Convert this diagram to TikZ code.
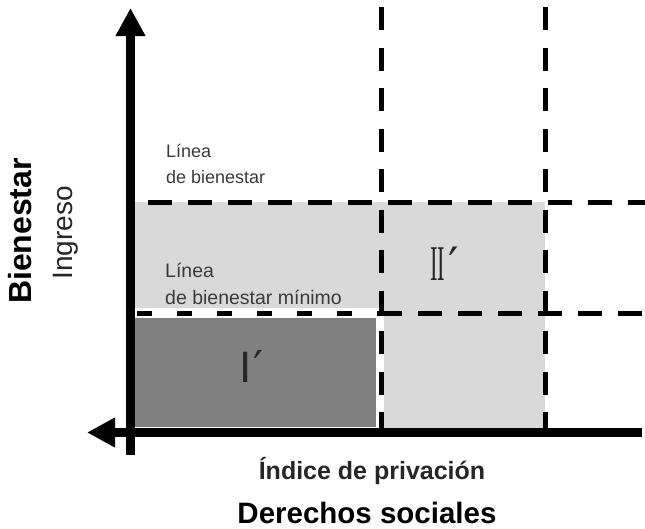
\documentclass[tikz,border=0pt]{standalone}
\usepackage{fontspec}
\setmainfont{Liberation Sans}
\newfontfamily\romfont[FakeStretch=0.45]{Liberation Serif}
\newfontfamily\primefont{DejaVu Sans}
\usetikzlibrary{arrows.meta}
\definecolor{lightfill}{HTML}{D9D9D9}
\definecolor{darkfill}{HTML}{808080}
\definecolor{labelgray}{HTML}{3A3A3A}
\begin{document}
\begin{tikzpicture}[x=1pt,y=-1pt,
  axisline/.style={line width=9pt,-{Triangle[length=28pt,width=28pt]}},
  hguide/.style={line width=5pt,dash pattern=on 24pt off 16pt},
  hguideshort/.style={line width=5pt,dash pattern=on 15pt off 25pt},
  vguide/.style={line width=5pt,dash pattern=on 23pt off 17.5pt},
  smalllabel/.style={anchor=base west,inner sep=0pt,text=labelgray,font=\fontsize{18}{20}\selectfont},
  smalllabelb/.style={anchor=base west,inner sep=0pt,text=labelgray,font=\fontsize{19.5}{22}\selectfont},
  bigtitle/.style={anchor=base,inner sep=0pt,font=\bfseries\fontsize{29.5}{34}\selectfont},
  midtitle/.style={anchor=base,inner sep=0pt,text=black!85,font=\bfseries\fontsize{25}{30}\selectfont},
  roman/.style={anchor=base west,inner sep=0pt,text=black!85}]
\useasboundingbox (0,0) rectangle (645,528);
% regions
\fill[lightfill] (135,202) rectangle (545,428);
\fill[white] (135,308) rectangle (383.5,428);
\fill[darkfill] (135,318) rectangle (376,427);
% named points
\coordinate (hu0) at (148,202); \coordinate (hu1) at (645,202);
\coordinate (hl0) at (137,313); \coordinate (hlm) at (378,313); \coordinate (hl1) at (645,313);
\coordinate (va0) at (381,7); \coordinate (va1) at (381,428);
\coordinate (vb0) at (545,7); \coordinate (vb1) at (545,428);
\coordinate (ybot) at (130.5,455); \coordinate (ytop) at (130.5,8);
\coordinate (xright) at (642,432.5); \coordinate (xleft) at (87,432.5);
% guide lines
\draw[hguide] (hu0) -- (hu1);
\draw[hguideshort] (hl0) -- (hlm);
\draw[hguide] (hlm) -- (hl1);
\draw[vguide] (va0) -- (va1);
\draw[vguide] (vb0) -- (vb1);
% axes
\draw[axisline] (ybot) -- (ytop);
\draw[axisline] (xright) -- (xleft);
% labels
\node[smalllabel] (la1) at (166,157) {Línea};
\node[smalllabel] (lb1) at (166,183) {de bienestar};
\node[smalllabelb] (la2) at (165,277) {Línea};
\node[smalllabelb] (lb2) at (165,304) {de bienestar mínimo};
\node[roman,font=\fontsize{44}{48}\selectfont] (r1) at (239,382) {I\kern2pt{\primefont ′}};
\node[roman,font=\romfont\fontsize{50}{54}\selectfont] (r2) at (430,280) {II\kern3pt{\primefont\fontsize{46}{50}\selectfont ′}};
\node[midtitle] (xsub) at (372,479) {Índice de privación};
\node[bigtitle] (xtitle) at (367,523) {Derechos sociales};
\node[anchor=base,inner sep=0pt,rotate=90,font=\bfseries\fontsize{32}{36}\selectfont] (ytitle) at (31,231) {Bienestar};
\node[anchor=base,inner sep=0pt,rotate=90,text=black!85,font=\fontsize{28}{32}\selectfont] (ysub) at (72,233) {Ingreso};
\end{tikzpicture}
\end{document}
